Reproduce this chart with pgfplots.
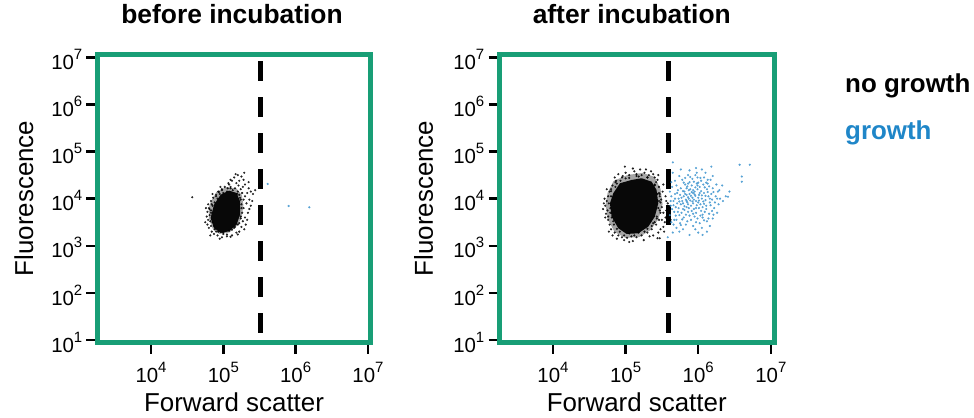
\documentclass[border=0pt]{standalone}
\usepackage{fontspec}
\setmainfont{Liberation Sans}
\usepackage{pgfplots}
\pgfplotsset{compat=1.18}

\definecolor{boxgreen}{RGB}{24,158,118}
\definecolor{growblue}{RGB}{31,134,200}
\definecolor{dotblue}{RGB}{62,148,206}

\newcommand{\tk}[1]{\fontsize{20.5}{21}\selectfont 10\raisebox{10bp}{\fontsize{15}{15}\selectfont #1}}

% axes hold log10 of the measured values
\pgfplotsset{
  flowpanel/.style={
    scale only axis, height=288bp,
    ymin=0.947, ymax=7.06,
    axis line style={draw=none},
    tick pos=left, tick align=outside,
    major tick length=11bp,
    tick style={black, line width=2.4bp},
    xtick={4,5,6,7},
    xticklabels={\tk{4},\tk{5},\tk{6},\tk{7}},
    ytick={1,2,3,4,5,6,7},
    yticklabels={\tk{1},\tk{2},\tk{3},\tk{4},\tk{5},\tk{6},\tk{7}},
    xticklabel style={inner sep=0pt, anchor=north, yshift=-8.5bp},
    yticklabel style={inner sep=0pt, anchor=east, xshift=-4bp, yshift=-2bp},
    label style={font=\fontsize{26}{30}\selectfont},
    title style={font=\fontsize{26.5}{30}\selectfont\bfseries, anchor=base},
    xlabel={Forward scatter}, ylabel={Fluorescence},
    clip=false,
  },
  cells/.style={only marks, mark=*, mark size=0.9bp, opacity=0.75},
  gate/.style={black, line width=5bp, dash pattern=on 20bp off 16bp, mark=none},
}

\begin{document}
\begin{tikzpicture}
\useasboundingbox (0,0) rectangle (974bp,418bp);

% ---- before incubation ----
\begin{axis}[flowpanel, at={(97.5bp,75.5bp)}, anchor=south west,
  width=273bp, xmin=3.26, xmax=7.035,
  title={before incubation},
  title style={at={(axis description cs:0.4927,1.0885)}},
  xlabel style={at={(axis description cs:0.5,-0.241)}, anchor=base},
  ylabel style={at={(axis description cs:-0.236,0.5)}, anchor=base}]
% outer, less dense part of the population
\addplot[fill=black, draw=none, fill opacity=0.35] coordinates {
  (4.820,3.909) (4.903,4.142) (5.041,4.248) (5.180,4.217) (5.256,4.079)
  (5.277,3.866) (5.256,3.611) (5.194,3.431) (5.083,3.282) (4.945,3.251)
  (4.855,3.357) (4.799,3.590) (4.799,3.803)} -- cycle;
% dense core
\addplot[fill=black, draw=none, fill opacity=0.95] coordinates {
  (4.871,3.873) (4.963,4.085) (5.079,4.170) (5.184,4.121) (5.231,3.945)
  (5.231,3.660) (5.184,3.448) (5.079,3.308) (4.963,3.272) (4.871,3.378)
  (4.824,3.590)} -- cycle;
\addplot[cells, black] coordinates {
  (5.15,4.45) (5.20,4.50) (5.25,4.47) (5.28,4.40) (5.22,4.38) (5.30,4.30)
  (5.35,4.22) (5.38,4.15) (5.41,4.10) (5.33,4.12) (5.27,4.25) (5.18,4.33)
  (5.12,4.38) (5.08,4.30) (5.24,4.20) (5.30,4.05) (5.36,3.98) (5.32,3.90)
  (5.28,3.80) (5.34,3.70) (5.30,3.60) (5.27,3.52) (5.31,3.45) (5.25,3.40)
  (5.22,3.30) (5.18,3.28) (5.12,3.22) (5.05,3.20) (4.98,3.18) (4.92,3.22)
  (4.87,3.25) (4.84,3.30) (4.80,3.38) (4.78,3.45) (4.79,3.55) (4.77,3.62)
  (4.78,3.72) (4.80,3.80) (4.79,3.88) (4.83,3.95) (4.86,4.02) (4.90,4.08)
  (4.93,4.15) (4.98,4.20) (5.02,4.25) (5.06,4.22) (5.10,4.25) (4.57,4.03)
  (5.16,4.22) (5.21,4.28) (5.26,4.12) (5.28,3.98) (5.25,3.88) (5.26,3.70)
  (5.24,3.58) (5.22,3.48) (5.15,3.38) (5.08,3.32) (5.00,3.25) (4.93,3.30)
  (4.88,3.35) (4.83,3.42) (4.82,3.52) (4.81,3.65) (4.83,3.75) (4.85,3.85)
  (4.88,3.92) (4.92,4.00) (4.95,4.10) (5.00,4.12) (5.05,4.15) (5.13,4.18)
  (5.19,4.10) (5.23,4.02) (5.38,3.85) (5.40,3.95) (5.44,4.18) (5.35,4.35)
  (5.29,4.55) (5.17,4.52) (5.10,4.40) (4.76,3.80) (4.75,3.50) (4.82,3.22)
  (4.95,3.15) (5.10,3.19) (5.20,3.24) (5.29,3.35) (5.33,3.55) (5.36,3.78)
  (4.85,4.10) (4.96,4.25) (5.07,4.33)
  (4.83,3.70) (4.85,3.50) (4.90,3.30) (5.00,3.28) (5.12,3.34) (5.20,3.45)
  (5.24,3.62) (5.25,3.80) (5.24,3.98) (5.20,4.15) (5.10,4.22) (4.98,4.18)
  (4.90,4.05) (4.84,3.88) (4.87,3.42) (5.16,3.40) (5.22,4.08) (4.94,4.14)
  (5.05,3.24) (4.81,3.78)};
\addplot[cells, dotblue] coordinates {(5.613,4.312) (5.903,3.845) (6.189,3.817)};
\addplot[gate] coordinates {(5.52,6.92) (5.52,1.15)};
\draw[boxgreen, line width=5bp] (rel axis cs:0,0) rectangle (rel axis cs:1,1);
\end{axis}

% ---- after incubation ----
\begin{axis}[flowpanel, at={(499.5bp,75.5bp)}, anchor=south west,
  width=275bp, xmin=3.264, xmax=7.05,
  title={after incubation},
  title style={at={(axis description cs:0.481,1.0885)}},
  xlabel style={at={(axis description cs:0.499,-0.241)}, anchor=base},
  ylabel style={at={(axis description cs:-0.242,0.5)}, anchor=base}]
\addplot[fill=black, draw=none, fill opacity=0.35] coordinates {
  (4.752,4.121) (4.835,4.376) (5.028,4.503) (5.234,4.546) (5.399,4.461)
  (5.481,4.206) (5.509,3.887) (5.454,3.569) (5.344,3.335) (5.193,3.187)
  (5.000,3.166) (4.849,3.293) (4.752,3.569) (4.725,3.866)} -- cycle;
\addplot[fill=black, draw=none, fill opacity=0.95] coordinates {
  (4.831,4.115) (4.922,4.327) (5.083,4.397) (5.220,4.433) (5.358,4.361)
  (5.426,4.185) (5.450,3.902) (5.403,3.618) (5.312,3.406) (5.175,3.265)
  (5.014,3.251) (4.900,3.372) (4.807,3.618) (4.784,3.902)} -- cycle;
\addplot[cells, black] coordinates {
  (4.99,4.68) (4.74,3.95) (4.72,3.85) (4.75,3.75) (4.76,4.05) (4.78,4.15)
  (4.73,3.68) (4.76,3.55) (4.78,3.45) (4.80,3.35) (4.85,3.28) (4.90,3.22)
  (4.95,3.18) (5.02,3.17) (5.08,3.20) (5.15,3.18) (5.22,3.22) (5.30,3.28)
  (5.36,3.35) (5.42,3.45) (5.46,3.55) (5.48,3.70) (5.50,3.82) (5.49,3.98)
  (5.47,4.10) (5.46,4.25) (5.42,4.35) (5.40,4.45) (5.32,4.50) (5.26,4.55)
  (5.15,4.52) (5.05,4.50) (4.95,4.45) (4.87,4.38) (4.82,4.28) (4.80,4.20)
  (5.35,4.58) (5.28,4.62) (5.44,4.40) (5.52,4.30) (5.55,4.05) (5.58,3.90)
  (5.56,3.75) (5.60,3.65) (5.62,3.55) (5.57,3.48) (5.52,3.40) (5.45,3.28)
  (5.38,3.22) (5.25,3.12) (5.10,3.10) (4.98,3.12) (4.88,3.15) (4.82,3.22)
  (4.77,3.30) (4.71,4.00) (4.70,3.90) (4.74,4.20) (4.85,4.45) (5.00,4.55)
  (5.12,4.58) (5.20,4.62) (5.52,3.70) (5.55,3.60) (5.50,3.55) (5.58,3.80)
  (5.53,3.30) (5.48,3.35) (5.56,3.95) (5.45,4.50) (5.44,3.16) (5.47,3.16)
  (4.80,4.05) (4.79,3.80) (4.81,3.60) (4.84,3.45) (4.92,3.30) (5.05,3.26)
  (5.18,3.28) (5.30,3.36) (5.38,3.48) (5.43,3.62) (5.45,3.80) (5.46,3.95)
  (5.44,4.10) (5.40,4.28) (5.30,4.45) (5.18,4.47) (5.05,4.44) (4.93,4.38)
  (4.86,4.25) (4.69,3.78) (4.72,3.60) (4.90,4.52) (5.10,4.64) (5.38,4.52)
  (5.51,4.15) (5.54,3.50) (5.33,3.20) (5.05,3.08)
  (4.77,3.90) (4.79,3.70) (4.83,3.52) (4.88,3.36) (4.98,3.22) (5.12,3.22)
  (5.26,3.30) (5.36,3.42) (5.43,3.58) (5.47,3.75) (5.48,3.92) (5.46,4.12)
  (5.40,4.30) (5.30,4.45) (5.15,4.48) (5.00,4.43) (4.88,4.32) (4.80,4.16)
  (4.96,4.48) (5.40,3.50) (5.47,4.05) (4.76,3.62) (4.86,4.35) (5.22,4.50)};
\addplot[cells, dotblue] coordinates {
  (5.92,4.02) (5.88,4.10) (5.97,3.95) (6.01,4.08) (5.85,3.92) (5.95,4.15)
  (6.05,4.00) (5.90,3.85) (5.80,4.05) (6.08,4.12) (5.99,4.20) (5.83,3.98)
  (5.93,3.90) (6.03,3.88) (5.87,4.18) (5.78,3.95) (6.10,3.97) (5.96,4.06)
  (5.86,4.03) (6.02,4.25) (5.91,4.28) (5.81,4.15) (5.75,4.08) (6.12,4.20)
  (6.06,3.82) (5.94,3.78) (5.84,3.82) (5.76,3.88) (6.14,4.05) (6.00,3.92)
  (5.89,3.96) (5.79,3.78) (6.07,4.30) (5.98,4.32) (5.73,4.00) (5.71,3.90)
  (6.16,3.92) (6.18,4.10) (5.97,3.70) (6.09,3.72) (5.86,3.72) (5.77,3.70)
  (5.69,3.82) (6.04,4.38) (5.88,4.35) (5.82,4.30) (6.13,4.32) (6.20,4.22)
  (5.72,4.18) (5.68,4.10) (5.93,4.12) (6.01,3.80) (5.84,4.22) (6.11,3.85)
  (5.95,3.62) (5.80,3.60) (6.06,3.60) (5.90,3.55) (6.15,3.68) (6.22,3.80)
  (5.74,3.65) (5.67,3.72) (6.19,3.98) (6.24,4.05) (5.66,3.95) (5.99,4.45)
  (5.92,4.42) (6.08,4.45) (5.78,4.40) (6.17,4.40)
  (5.64,4.25) (5.63,4.05) (5.62,3.85) (5.61,3.65) (5.63,3.50) (5.66,3.45)
  (5.70,3.55) (5.75,3.48) (5.83,3.45) (5.93,3.42) (6.02,3.48) (6.12,3.52)
  (6.20,3.58) (6.26,3.70) (6.28,3.88) (6.30,4.00) (6.27,4.15) (6.25,4.30)
  (6.20,4.48) (6.10,4.55) (5.98,4.55) (5.86,4.50) (5.74,4.48) (5.68,4.38)
  (5.65,4.55) (5.70,3.38) (5.79,3.35) (5.96,3.35) (6.05,3.38) (6.16,3.42)
  (6.29,4.18) (6.38,4.05) (6.41,4.04) (6.43,4.15) (6.34,3.95) (6.33,4.28)
  (5.97,4.65) (6.18,4.68) (5.65,4.77) (5.76,4.62) (6.05,4.62) (5.88,4.60)
  (5.74,3.30) (5.88,3.23) (6.06,3.23) (5.58,3.18) (5.65,3.28) (6.12,3.30)
  (6.00,3.28) (6.57,4.72) (6.71,4.72) (6.60,4.47) (6.60,4.36)
  (5.90,4.06) (5.94,3.98) (6.00,4.02) (5.86,3.88) (5.82,4.10) (6.04,4.16)
  (5.96,4.24) (5.89,4.20) (6.10,4.06) (5.79,3.90) (5.84,4.08) (6.07,3.94)
  (5.98,3.86) (5.92,3.94) (6.02,4.12) (5.87,4.00) (5.93,4.18) (5.77,4.02)
  (6.13,4.14) (6.00,4.34) (5.85,4.26) (6.09,4.24) (5.76,4.22) (5.81,3.84)
  (5.97,3.80) (6.04,3.74) (5.91,3.74) (5.83,3.66) (6.11,3.78) (6.17,3.86)
  (5.73,3.80) (5.71,4.12) (6.21,4.14) (6.15,4.26) (5.94,4.36) (5.80,4.34)
  (6.03,4.44) (5.89,4.46) (5.70,4.28) (6.23,3.92) (6.06,3.66) (5.88,3.64)
  (5.99,3.58) (5.78,3.56) (5.72,3.72) (6.19,3.74) (5.66,3.86) (5.68,4.00)
  (6.26,4.00) (6.13,4.40) (5.96,4.50) (5.82,4.44) (5.87,3.80) (6.01,3.96)
  (5.95,4.09) (5.84,3.95) (6.05,4.07) (5.91,4.14) (5.79,4.16) (6.08,3.89)
  (5.74,3.94) (6.16,4.00) (5.99,4.28) (5.86,4.32) (6.11,4.34) (5.93,3.68)
  (6.03,3.64) (5.81,3.76) (5.69,3.64) (6.21,3.66) (6.14,3.58) (5.85,3.52)
  (6.08,3.54) (5.97,3.50) (5.76,3.44) (5.67,3.55) (5.62,3.95) (5.61,4.15)
  (5.64,3.78) (5.63,4.35)};
\addplot[gate] coordinates {(5.585,6.92) (5.585,1.15)};
\draw[boxgreen, line width=5bp] (rel axis cs:0,0) rectangle (rel axis cs:1,1);
\end{axis}

% text legend
\node[anchor=base west, inner sep=0, font=\fontsize{26}{30}\selectfont\bfseries]
  at (845bp,325bp) {no growth};
\node[anchor=base west, inner sep=0, text=growblue, font=\fontsize{26}{30}\selectfont\bfseries]
  at (845bp,278bp) {growth};
\end{tikzpicture}
\end{document}
